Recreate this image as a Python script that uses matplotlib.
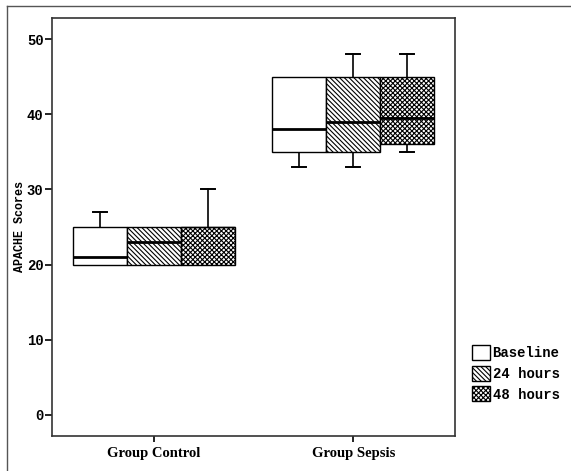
import matplotlib
matplotlib.use("Agg")
import matplotlib.pyplot as plt
from matplotlib.patches import Patch
from matplotlib.lines import Line2D

groups = ["Group Control", "Group Sepsis"]
times = ["Baseline", "24 hours", "48 hours"]

# box stats: [control, sepsis] per time point
q1 = {"Baseline": [20, 35], "24 hours": [20, 35], "48 hours": [20, 36]}
med = {"Baseline": [21, 38], "24 hours": [23, 39], "48 hours": [25, 39.5]}
q3 = {"Baseline": [25, 45], "24 hours": [25, 45], "48 hours": [25, 45]}
wlo = {"Baseline": [20, 33], "24 hours": [20, 33], "48 hours": [20, 35]}
whi = {"Baseline": [27, 45], "24 hours": [25, 48], "48 hours": [30, 48]}

hatches = {"Baseline": "", "24 hours": "\\\\\\\\\\\\\\", "48 hours": "xxxxxxx"}

plt.rcParams["hatch.linewidth"] = 0.8

fig = plt.figure(figsize=(5.71, 4.71), dpi=100)
ax = fig.add_axes([0.091, 0.0743, 0.706, 0.8875])

w = 0.271
for k, t in enumerate(times):
    stats = []
    for g in range(len(groups)):
        stats.append(dict(med=med[t][g], q1=q1[t][g], q3=q3[t][g],
                          whislo=wlo[t][g], whishi=whi[t][g], fliers=[]))
    pos = [g + 1 + (k - 1) * w for g in range(len(groups))]
    bp = ax.bxp(stats, positions=pos, widths=w, patch_artist=True,
                showfliers=False, capwidths=0.07, manage_ticks=False,
                boxprops=dict(facecolor="white", edgecolor="black", linewidth=1.0,
                              hatch=hatches[t], zorder=3),
                medianprops=dict(color="black", linewidth=2.0, zorder=4),
                whiskerprops=dict(color="black", linewidth=1.2, zorder=2),
                capprops=dict(color="black", linewidth=1.4, zorder=2))
    # whiskers of zero length leave no cap in the original
    for g in range(len(groups)):
        if wlo[t][g] == q1[t][g]:
            bp["caps"][2 * g].set_visible(False)
        if whi[t][g] == q3[t][g]:
            bp["caps"][2 * g + 1].set_visible(False)
        if med[t][g] in (q1[t][g], q3[t][g]):
            bp["medians"][g].set_linewidth(1.0)

ax.set_xlim(0.487, 2.51)
ax.set_ylim(-2.8, 52.8)
ax.set_xticks([1, 2])
ax.set_xticklabels(groups, fontfamily="Liberation Serif", fontweight="bold", fontsize=10.5)
ax.set_yticks([0, 10, 20, 30, 40, 50])
ax.set_yticklabels([0, 10, 20, 30, 40, 50], fontfamily="Liberation Mono",
                   fontweight="bold", fontsize=10)
ax.tick_params(axis="y", length=5, width=1.2, pad=1)
ax.tick_params(axis="x", length=4, width=1.2, pad=4)
for s in ax.spines.values():
    s.set_linewidth(1.2)
    s.set_color("#333333")
ax.set_ylabel("APACHE Scores", fontfamily="Liberation Mono", fontweight="bold",
              fontsize=8.5)
ax.yaxis.set_label_coords(-0.065, 0.5)

# outer frame
fig.add_artist(Line2D([7 / 571, 570 / 571], [1 - 6 / 471, 1 - 6 / 471],
                      transform=fig.transFigure, color="#555555", linewidth=1.0))
fig.add_artist(Line2D([7 / 571, 7 / 571], [1 - 6 / 471, 0],
                      transform=fig.transFigure, color="#555555", linewidth=1.0))

handles = [Patch(facecolor="white", edgecolor="black", hatch=hatches[t]) for t in times]
fig.legend(handles, times, loc="upper left", bbox_to_anchor=(469 / 571, 1 - 342 / 471),
           frameon=False, prop=dict(family="Liberation Mono", weight="bold", size=10),
           handlelength=1.3, handleheight=1.3, handletextpad=0.2, labelspacing=0.4,
           borderaxespad=0, borderpad=0.2)

fig.savefig("out.png", dpi=100)
